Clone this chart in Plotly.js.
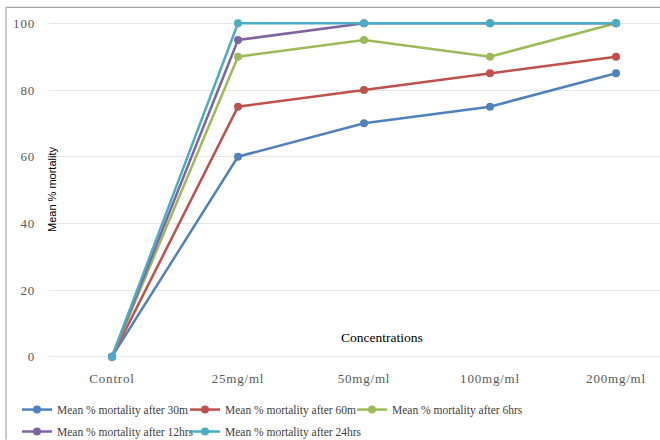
<!DOCTYPE html>
<html>
<head>
<meta charset="utf-8">
<script src="https://cdn.plot.ly/plotly-3.0.1.min.js"></script>
<style>
  html, body { margin: 0; padding: 0; background: #ffffff; }
  #chart { width: 660px; height: 440px; }
  /* slightly open tracking on the axis numbers and category names */
  #chart .xtick text, #chart .ytick text { letter-spacing: 0.8px; }
</style>
</head>
<body>
<div id="chart"></div>
<script>
// Concentration groups on the x axis
const concentrations = ['Control', '25mg/ml', '50mg/ml', '100mg/ml', '200mg/ml'];

// Mean % mortality for each exposure time
const after30m  = [0, 60, 70, 75, 85];
const after60m  = [0, 75, 80, 85, 90];
const after6hrs = [0, 90, 95, 90, 100];
const after12hrs = [0, 95, 100, 100, 100];
const after24hrs = [0, 100, 100, 100, 100];

const seriesNames = [
  'Mean % mortality after 30m',
  'Mean % mortality after 60m',
  'Mean % mortality after 6hrs',
  'Mean % mortality after 12hrs',
  'Mean % mortality after 24hrs'
];
const seriesValues = [after30m, after60m, after6hrs, after12hrs, after24hrs];
const seriesColors = ['#4F81BD', '#C0504D', '#9BBB59', '#8064A2', '#4BACC6'];

// each series gets its own legend box so the entries line up in a 3 + 2 grid
const legendIds = ['legend', 'legend2', 'legend3', 'legend4', 'legend5'];
const legendSlots = [[17, 410], [185, 410], [352, 410], [17, 432], [185, 432]];

const traces = seriesValues.map((vals, i) => ({
  type: 'scatter',
  mode: 'lines+markers',
  name: seriesNames[i],
  legend: legendIds[i],
  x: concentrations,
  y: vals,
  line: { color: seriesColors[i], width: 2.5 },
  marker: { color: seriesColors[i], size: 8 },
  cliponaxis: false
}));

// plot-area geometry in pixels; y runs from -1 to 101 so the lines at 100 are not clipped
const W = 660, H = 440, mL = 49, mR = 0;
const unit = 3.34;                  // pixels per percentage point
const y0px = 357;                   // pixel row of 0 %
const mT = 23 - unit, mB = H - y0px - unit;
const pw = W - mL - mR, ph = H - mT - mB;
const px = v => (v - mL) / pw;
const py = v => (H - mB - v) / ph;

const serif = "'Liberation Serif', 'Times New Roman', serif";
const sans = "'Liberation Sans', Arial, sans-serif";

const layout = {
  width: W,
  height: H,
  margin: { l: mL, r: mR, t: mT, b: mB, autoexpand: false },
  paper_bgcolor: '#ffffff',
  plot_bgcolor: '#ffffff',
  showlegend: true,
  xaxis: {
    type: 'category',
    range: [-0.5, 4.349],
    showgrid: false,
    showline: false,
    zeroline: false,
    ticks: '',
    ticklabelstandoff: 9,
    tickfont: { family: serif, size: 13, color: '#595959' },
    fixedrange: true
  },
  yaxis: {
    range: [-1, 101],
    tickvals: [0, 20, 40, 60, 80, 100],
    showgrid: true,
    gridcolor: '#e6e6e6',
    gridwidth: 1,
    zeroline: false,
    showline: false,
    ticks: '',
    ticklabelstandoff: 13,
    tickfont: { family: serif, size: 13, color: '#595959' },
    fixedrange: true
  },
  annotations: [
    {
      text: 'Mean % mortality',
      xref: 'paper', yref: 'paper',
      x: px(52), y: py(190),
      xanchor: 'center', yanchor: 'middle',
      showarrow: false,
      textangle: -90,
      font: { family: sans, size: 11, color: '#000000' }
    },
    {
      text: 'Concentrations',
      xref: 'paper', yref: 'paper',
      x: px(382), y: py(338),
      xanchor: 'center', yanchor: 'middle',
      showarrow: false,
      font: { family: serif, size: 13.5, color: '#000000' }
    }
  ],
  shapes: [
    {
      type: 'line', xref: 'paper', yref: 'paper',
      x0: px(6), x1: px(6), y0: py(7), y1: py(440),
      line: { color: '#a6a6a6', width: 1.2 }
    },
    {
      type: 'line', xref: 'paper', yref: 'paper',
      x0: px(6), x1: px(660), y0: py(7), y1: py(7),
      line: { color: '#a6a6a6', width: 1.2 }
    }
  ]
};

legendIds.forEach((id, i) => {
  layout[id] = {
    orientation: 'h',
    x: px(legendSlots[i][0]),
    y: py(legendSlots[i][1]),
    xanchor: 'left',
    yanchor: 'middle',
    font: { family: serif, size: 11.5, color: '#404040' },
    bgcolor: 'rgba(0,0,0,0)'
  };
});

Plotly.newPlot('chart', traces, layout, { displayModeBar: false, staticPlot: true });
</script>
</body>
</html>
